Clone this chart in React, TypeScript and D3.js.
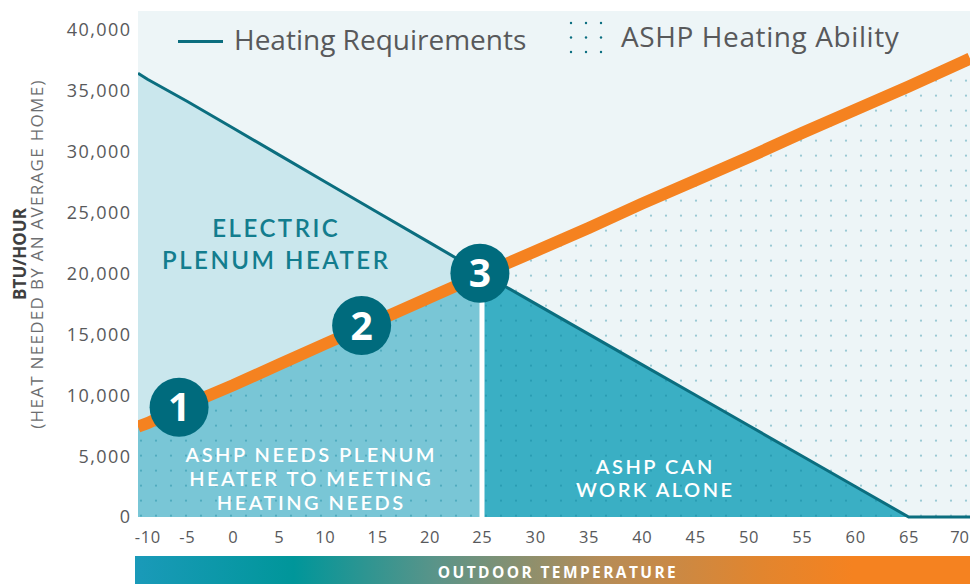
import React from 'react'
import * as d3 from 'd3'

// outdoor temperature (°F) and BTU/hour
const temps = [-11.2, -10, -5, 0, 5, 10, 15, 20, 25, 30, 35, 40, 45, 50, 55, 60, 65, 70, 70.75]
const heatingNeed = [36400, 35900, 34100, 31900, 29700, 27500, 25000, 22500, 20000, 17500, 15000, 12500, 10000, 7500, 5000, 2500, 0, 0, 0]
const ashpAbility = [7400, 7700, 9200, 10800, 12500, 14200, 16100, 18000, 19900, 21800, 23700, 25700, 27600, 29500, 31500, 33400, 35300, 37300, 37600]

const xTickValues = [-10, -5, 0, 5, 10, 15, 20, 25, 30, 35, 40, 45, 50, 55, 60, 65, 70]
const yTickValues = [0, 5000, 10000, 15000, 20000, 25000, 30000, 35000, 40000]
const splitTemp = 25

const markerLabels = ['1', '2', '3']
const markerTemps = [-6, 13.5, 24.8]
const markerValues = [9000, 15700, 20000]

const FONT = "'Open Sans', sans-serif"
const LABEL_FONT = "Lato, 'Open Sans', sans-serif"
const TEXT = '#58595b'

export default function App() {
  const W = 970
  const H = 584
  const plot = { left: 138, right: 970, top: 11, bottom: 517 }

  // the printed axis is not evenly spaced on the cold side, so the scale bends at a few ticks
  const x = d3.scaleLinear()
    .domain([-11.2, -5, 0, 10, 25, 70.75])
    .range([plot.left, 187, 233, 325, 482, plot.right])
  const y = d3.scaleLinear().domain([0, 41500]).range([plot.bottom, plot.top])

  const pts = temps.map((t, i) => ({ t, h: heatingNeed[i], a: ashpAbility[i] }))
  const leftPts = pts.filter((p) => p.t <= splitTemp)
  const rightPts = pts.filter((p) => p.t >= splitTemp)

  const areaNeed = d3.area<any>().x((d) => x(d.t)).y0(y(0)).y1((d) => y(d.h))
  const areaAshp = d3.area<any>().x((d) => x(d.t)).y0(y(0)).y1((d) => y(d.a))
  const lineNeed = d3.line<any>().x((d) => x(d.t)).y((d) => y(d.h))
  const lineAshp = d3.line<any>().x((d) => x(d.t)).y((d) => y(d.a))

  const splitIdx = temps.indexOf(splitTemp)
  const fmt = d3.format(',')
  const ls = 2.5 // letter spacing of the region labels

  return (
    <svg width={W} height={H} style={{ position: 'absolute', left: 0, top: 0, display: 'block' }} fontFamily={FONT}>
      <defs>
        <pattern id="dots" width={15} height={15} patternUnits="userSpaceOnUse">
          <circle cx={6} cy={5.7} r={1.1} fill="#0a7e95" fillOpacity={0.38} />
        </pattern>
        <linearGradient id="tempGrad" x1="0" x2="1" y1="0" y2="0">
          <stop offset="0" stopColor="#1a9ab9" />
          <stop offset="0.19" stopColor="#00969a" />
          <stop offset="0.36" stopColor="#5a9489" />
          <stop offset="0.56" stopColor="#b68c57" />
          <stop offset="0.75" stopColor="#e2852e" />
          <stop offset="0.86" stopColor="#f58220" />
          <stop offset="1" stopColor="#f58220" />
        </linearGradient>
        <clipPath id="plotClip">
          <rect x={plot.left} y={plot.top} width={plot.right - plot.left} height={plot.bottom - plot.top + 2} />
        </clipPath>
      </defs>

      <rect x={plot.left} y={plot.top} width={plot.right - plot.left} height={plot.bottom - plot.top} fill="#edf5f7" />

      <g clipPath="url(#plotClip)">
        <path d={areaNeed(leftPts) || ''} fill="#cae7ed" />
        <path d={areaAshp(leftPts) || ''} fill="#79c6d6" />
        <path d={areaNeed(rightPts) || ''} fill="#3aafc4" />
        <path d={areaAshp(pts) || ''} fill="url(#dots)" />
        <line
          x1={x(splitTemp)} x2={x(splitTemp)}
          y1={y(0)} y2={y(ashpAbility[splitIdx])}
          stroke="#fff" strokeWidth={5}
        />
        <path d={lineNeed(pts) || ''} fill="none" stroke="#0b6e7f" strokeWidth={3} />
        <path d={lineAshp(pts) || ''} fill="none" stroke="#f58220" strokeWidth={12} />
      </g>

      {markerLabels.map((lab, i) => (
        <g key={lab} transform={`translate(${x(markerTemps[i])},${y(markerValues[i])})`}>
          <circle r={29.5} fill="#006b7d" />
          <text textAnchor="middle" dy="0.36em" fill="#fff" fontSize={39} fontWeight={700}>{lab}</text>
        </g>
      ))}

      {/* region labels */}
      <g fontFamily={LABEL_FONT} fontWeight={600} letterSpacing={ls} textAnchor="middle">
        <text fill="#137d8e" fontSize={24}>
          <tspan x={275 + ls / 2} y={237}>ELECTRIC</tspan>
          <tspan x={275 + ls / 2} y={269}>PLENUM HEATER</tspan>
        </text>
        <text fill="#fff" fontSize={20}>
          <tspan x={310 + ls / 2} y={462}>ASHP NEEDS PLENUM</tspan>
          <tspan x={310 + ls / 2} y={486}>HEATER TO MEETING</tspan>
          <tspan x={310 + ls / 2} y={510}>HEATING NEEDS</tspan>
        </text>
        <text fill="#fff" fontSize={20}>
          <tspan x={654 + ls / 2} y={474}>ASHP CAN</tspan>
          <tspan x={654 + ls / 2} y={497}>WORK ALONE</tspan>
        </text>
      </g>

      {/* y axis */}
      {yTickValues.map((v) => (
        <text key={v} x={plot.left - 8 + 1.4} y={y(v)} dy="0.36em" textAnchor="end" fill={TEXT} fontSize={18} letterSpacing={1.4}>
          {fmt(v)}
        </text>
      ))}
      <text transform={`translate(26,254) rotate(-90)`} textAnchor="middle" fill="#3f3f40" fontSize={17} fontWeight={700}>
        BTU/HOUR
      </text>
      <text transform={`translate(43,254) rotate(-90)`} textAnchor="middle" fill="#6d6e70" fontSize={17} letterSpacing={1.3}>
        (HEAT NEEDED BY AN AVERAGE HOME)
      </text>

      {/* x axis; the last label is kept inside the picture's right edge */}
      {xTickValues.map((v, i) => {
        const last = i === xTickValues.length - 1
        return (
          <text
            key={v}
            x={last ? W - 1 : x(v) + 0.3}
            y={543}
            textAnchor={last ? 'end' : 'middle'}
            fill={TEXT}
            fontSize={16.5}
            letterSpacing={last ? 0 : 0.6}
          >
            {v}
          </text>
        )
      })}
      <rect x={135} y={556} width={W - 135} height={H - 556} fill="url(#tempGrad)" />
      <text x={558} y={578} textAnchor="middle" fill="#fff" fontSize={15.5} fontWeight={700} letterSpacing={2.4}>
        OUTDOOR TEMPERATURE
      </text>

      {/* legend */}
      <line x1={178} x2={223} y1={41.5} y2={41.5} stroke="#0b6e7f" strokeWidth={3} />
      <text x={234} y={50} fill={TEXT} fontSize={28}>Heating Requirements</text>
      {[0, 1, 2].map((r) =>
        [0, 1, 2].map((c) => (
          <circle key={`${r}-${c}`} cx={571 + c * 15} cy={23 + r * 14.5} r={1.2} fill="#0a6e80" />
        ))
      )}
      <text x={621} y={47} fill={TEXT} fontSize={28} letterSpacing={0.6}>ASHP Heating Ability</text>
    </svg>
  )
}
